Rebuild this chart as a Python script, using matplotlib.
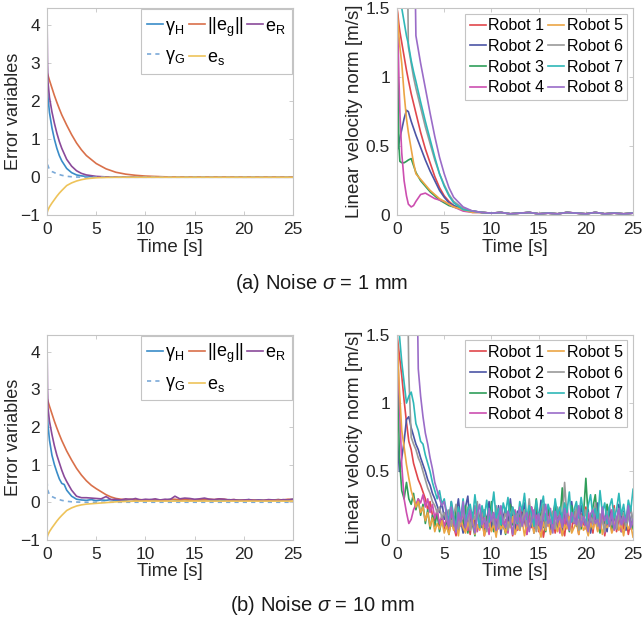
import matplotlib
matplotlib.use('Agg')
import matplotlib.pyplot as plt
import numpy as np

plt.rcParams['font.family'] = ['Liberation Sans', 'DejaVu Sans']
plt.rcParams['mathtext.fontset'] = 'custom'
plt.rcParams['mathtext.rm'] = 'Liberation Sans'
plt.rcParams['mathtext.it'] = 'Liberation Sans:italic'

# ---- error variables, noise 1 mm ----
t_err = [0, 0.05, 0.1, 0.25, 0.5, 0.75, 1, 1.25, 1.5, 2, 2.5, 3, 3.5, 4, 5, 6, 7, 8, 9, 10, 12, 15, 20, 25]
gamma_h_a = [2.55, 2.3, 2.1, 1.7, 1.3, 1.0, 0.76, 0.57, 0.43, 0.23, 0.12, 0.06, 0.035, 0.02, 0.008, 0.003, 0, 0, 0, 0, 0, 0, 0, 0]
e_r_a = [4.4, 3.0, 2.5, 2.1, 1.72, 1.42, 1.16, 0.94, 0.76, 0.47, 0.29, 0.17, 0.1, 0.06, 0.022, 0.008, 0.003, 0, 0, 0, 0, 0, 0, 0]
e_g_a = [2.75, 2.72, 2.68, 2.55, 2.35, 2.15, 1.97, 1.8, 1.64, 1.37, 1.12, 0.9, 0.72, 0.57, 0.36, 0.22, 0.13, 0.08, 0.05, 0.03, 0.01, 0.003, 0, 0]
gamma_g_a = [0.55, 0.4, 0.3, 0.2, 0.15, 0.12, 0.09, 0.07, 0.05, 0.025, 0.012, 0.005, 0.002, 0, 0, 0, 0, 0, 0, 0, 0, 0, 0, 0]
e_s_a = [-0.95, -0.9, -0.86, -0.78, -0.68, -0.59, -0.5, -0.42, -0.35, -0.22, -0.15, -0.1, -0.065, -0.04, -0.015, -0.006, -0.002, 0, 0, 0, 0, 0, 0, 0]

# ---- error variables, noise 10 mm ----
t_err_b = [0, 0.05, 0.1, 0.25, 0.5, 0.75, 1, 1.25, 1.5, 1.75, 2,
           2.5, 3, 3.5, 4, 4.5, 5, 5.5, 6, 6.5, 7, 7.5, 8, 8.5, 9, 9.5, 10, 10.5, 11, 11.5, 12,
           12.5, 13, 13.5, 14, 14.5, 15, 15.5, 16, 16.5, 17, 17.5, 18, 18.5, 19, 19.5, 20,
           20.5, 21, 21.5, 22, 22.5, 23, 23.5, 24, 24.5, 25]
gamma_h_b = [2.55, 2.3, 2.05, 1.65, 1.25, 1.0, 0.8, 0.62, 0.5, 0.47, 0.32,
             0.16, 0.08, 0.06, 0.05, 0.07, 0.04, 0.06, 0.05, 0.07, 0.04, 0.06, 0.05, 0.08, 0.05, 0.06,
             0.04, 0.07, 0.05, 0.06, 0.05, 0.08, 0.06, 0.05, 0.07, 0.04, 0.06, 0.05, 0.07, 0.06, 0.04,
             0.06, 0.05, 0.07, 0.05, 0.06, 0.04, 0.07, 0.05, 0.06, 0.05, 0.04, 0.06, 0.07, 0.05, 0.06, 0.08]
e_r_b = [4.4, 3.0, 2.5, 2.15, 1.8, 1.5, 1.25, 1.05, 0.85, 0.68, 0.55,
         0.32, 0.16, 0.12, 0.12, 0.11, 0.1, 0.09, 0.15, 0.07, 0.08,
         0.06, 0.09, 0.07, 0.1, 0.06, 0.08, 0.07, 0.09, 0.06, 0.08,
         0.07, 0.16, 0.09, 0.11, 0.1, 0.08, 0.09, 0.11, 0.08, 0.07,
         0.09, 0.08, 0.06, 0.07, 0.05, 0.06, 0.07, 0.05, 0.06, 0.05,
         0.07, 0.06, 0.05, 0.07, 0.06, 0.08]
e_g_b = [2.75, 2.72, 2.68, 2.55, 2.35, 2.15, 1.97, 1.8, 1.64, 1.5, 1.36,
         1.12, 0.9, 0.72, 0.57, 0.45, 0.36, 0.28, 0.2, 0.14, 0.1,
         0.08, 0.07, 0.08, 0.06, 0.07, 0.05, 0.06, 0.07, 0.05, 0.06,
         0.07, 0.08, 0.06, 0.07, 0.06, 0.05, 0.07, 0.06, 0.08, 0.07,
         0.09, 0.08, 0.06, 0.07, 0.05, 0.06, 0.05, 0.06, 0.04, 0.05,
         0.06, 0.05, 0.07, 0.06, 0.08, 0.07]
gamma_g_b = gamma_g_a
e_s_b = [-0.95, -0.9, -0.86, -0.78, -0.68, -0.59, -0.5, -0.42, -0.35, -0.22, -0.15, -0.1, -0.07, -0.05, -0.03, -0.01, 0.01, 0.02, 0.03, 0.03, 0.03, 0.03, 0.03, 0.03]

# ---- robot velocity norms, noise 1 mm ----
t_vel = [0, 0.1, 0.2, 0.3, 0.5, 0.75, 1, 1.2, 1.5, 1.75, 2, 2.5, 3, 3.5, 4, 4.5, 5, 5.5, 6, 7, 8,
         9, 10, 11, 12, 13, 14, 15, 16, 17, 18, 19, 20, 21, 22, 23, 24, 25]
tail_a = [0.02, 0.015, 0.02, 0.01, 0.015, 0.02, 0.01, 0.015, 0.01, 0.02, 0.015, 0.01, 0.02, 0.01, 0.015, 0.01, 0.015]
robot1_a = [1.5, 1.45, 1.38, 1.33, 1.25, 1.15, 1.05, 0.98, 0.88, 0.81, 0.74, 0.6, 0.48, 0.38, 0.28, 0.2, 0.14, 0.1, 0.07, 0.04, 0.03] + tail_a
robot2_a = [0.8, 0.48, 0.52, 0.56, 0.62, 0.7, 0.76, 0.75, 0.68, 0.63, 0.58, 0.49, 0.4, 0.32, 0.25, 0.18, 0.13, 0.09, 0.07, 0.04, 0.03] + tail_a
robot3_a = [1.5, 1.0, 0.5, 0.39, 0.38, 0.38, 0.39, 0.4, 0.41, 0.36, 0.31, 0.25, 0.21, 0.17, 0.14, 0.11, 0.09, 0.07, 0.06, 0.04, 0.025] + tail_a
robot4_a = [1.5, 1.3, 1.0, 0.75, 0.45, 0.25, 0.14, 0.08, 0.06, 0.07, 0.1, 0.15, 0.16, 0.14, 0.12, 0.11, 0.1, 0.08, 0.06, 0.03, 0.02] + tail_a
robot5_a = [1.5, 1.4, 1.3, 1.22, 1.1, 0.88, 0.7, 0.6, 0.48, 0.38, 0.3, 0.26, 0.22, 0.18, 0.15, 0.12, 0.1, 0.08, 0.06, 0.04, 0.02] + tail_a
robot6_a = [2.5, 2.5, 2.5, 2.5, 2.5, 2.5, 2.5, 1.22, 1.1, 1.0, 0.92, 0.78, 0.64, 0.52, 0.4, 0.3, 0.22, 0.15, 0.1, 0.05, 0.03] + tail_a
robot7_a = [2.5, 2.5, 2.5, 2.5, 1.5, 1.4, 1.3, 1.24, 1.12, 1.04, 0.97, 0.82, 0.68, 0.55, 0.42, 0.3, 0.21, 0.14, 0.09, 0.04, 0.03] + tail_a
robot8_a = [2.5, 2.5, 2.5, 2.5, 2.5, 2.5, 2.5, 2.5, 2.5, 2.5, 1.3, 1.1, 0.92, 0.74, 0.57, 0.42, 0.3, 0.2, 0.13, 0.06, 0.03] + tail_a

# ---- robot velocity norms, noise 10 mm (0.25 s samples) ----
t_vel_b = np.linspace(0, 25, 101)
robot1_b = [1.5, 1.35, 1.2, 1.02, 0.86, 0.72, 0.66, 0.56, 0.5, 0.44, 0.4, 0.35, 0.3, 0.22, 0.28, 0.18, 0.14, 0.2, 0.1, 0.16, 0.08,
            0.15, 0.05, 0.2, 0.1, 0.03, 0.18, 0.12, 0.22, 0.07, 0.14,
            0.04, 0.19, 0.11, 0.25, 0.08, 0.16, 0.03, 0.13, 0.21, 0.09,
            0.17, 0.05, 0.12, 0.24, 0.1, 0.06, 0.19, 0.14, 0.03, 0.2,
            0.11, 0.07, 0.23, 0.15, 0.04, 0.18, 0.09, 0.13, 0.26, 0.06,
            0.16, 0.02, 0.12, 0.2, 0.08, 0.17, 0.05, 0.14, 0.22, 0.1,
            0.03, 0.18, 0.12, 0.07, 0.21, 0.15, 0.04, 0.19, 0.11, 0.24,
            0.08, 0.13, 0.05, 0.2, 0.16, 0.09, 0.22, 0.03, 0.14, 0.18,
            0.1, 0.25, 0.06, 0.15, 0.2, 0.08, 0.17, 0.04, 0.13, 0.1]
robot2_b = [0.78, 0.5, 0.6, 0.72, 0.88, 0.9, 0.82, 0.76, 0.7, 0.66, 0.6, 0.55, 0.5, 0.44, 0.4, 0.34, 0.3, 0.25, 0.2, 0.28, 0.15,
            0.22, 0.12, 0.28, 0.08, 0.18, 0.3, 0.14, 0.05, 0.24, 0.32,
            0.1, 0.2, 0.06, 0.26, 0.15, 0.09, 0.22, 0.13, 0.28, 0.07,
            0.19, 0.11, 0.25, 0.04, 0.17, 0.23, 0.1, 0.3, 0.14, 0.06,
            0.21, 0.12, 0.18, 0.27, 0.08, 0.16, 0.24, 0.05, 0.2, 0.13,
            0.29, 0.09, 0.17, 0.22, 0.06, 0.14, 0.26, 0.11, 0.19, 0.04,
            0.23, 0.15, 0.08, 0.28, 0.12, 0.2, 0.07, 0.25, 0.16, 0.1,
            0.22, 0.05, 0.18, 0.13, 0.27, 0.09, 0.2, 0.15, 0.06, 0.24,
            0.11, 0.19, 0.08, 0.26, 0.14, 0.21, 0.07, 0.17, 0.23, 0.12]
robot3_b = [1.5, 0.6, 0.36, 0.3, 0.42, 0.3, 0.26, 0.34, 0.22, 0.3, 0.18, 0.26, 0.12, 0.22, 0.08, 0.18, 0.1, 0.2, 0.06, 0.15, 0.1,
            0.14, 0.04, 0.19, 0.1, 0.22, 0.07, 0.16, 0.12, 0.25, 0.05,
            0.18, 0.11, 0.03, 0.2, 0.14, 0.24, 0.08, 0.17, 0.1, 0.28,
            0.06, 0.15, 0.21, 0.09, 0.13, 0.04, 0.19, 0.26, 0.11, 0.16,
            0.07, 0.22, 0.12, 0.18, 0.05, 0.24, 0.1, 0.15, 0.3, 0.08,
            0.2, 0.13, 0.06, 0.23, 0.11, 0.17, 0.27, 0.09, 0.14, 0.38,
            0.12, 0.2, 0.06, 0.25, 0.15, 0.1, 0.22, 0.08, 0.18, 0.45,
            0.16, 0.09, 0.24, 0.33, 0.13, 0.05, 0.2, 0.11, 0.26, 0.14,
            0.07, 0.19, 0.12, 0.23, 0.06, 0.17, 0.1, 0.21, 0.14, 0.08]
robot4_b = [1.5, 1.0, 0.55, 0.3, 0.2, 0.12, 0.15, 0.22, 0.26, 0.3, 0.27, 0.33, 0.24, 0.3, 0.2, 0.26, 0.16, 0.22, 0.12, 0.18, 0.1,
            0.16, 0.08, 0.2, 0.12, 0.05, 0.18, 0.1, 0.23, 0.14, 0.07,
            0.19, 0.11, 0.25, 0.06, 0.15, 0.2, 0.09, 0.13, 0.04, 0.21,
            0.12, 0.17, 0.08, 0.24, 0.1, 0.15, 0.05, 0.19, 0.13, 0.22,
            0.07, 0.16, 0.11, 0.2, 0.04, 0.14, 0.24, 0.09, 0.18, 0.12,
            0.06, 0.21, 0.15, 0.1, 0.23, 0.08, 0.17, 0.13, 0.05, 0.2,
            0.11, 0.26, 0.09, 0.16, 0.12, 0.22, 0.06, 0.18, 0.14, 0.08,
            0.2, 0.1, 0.15, 0.24, 0.07, 0.13, 0.19, 0.05, 0.17, 0.11,
            0.22, 0.09, 0.14, 0.2, 0.06, 0.16, 0.12, 0.24, 0.08, 0.15]
robot5_b = [1.5, 1.1, 0.8, 0.68, 0.55, 0.45, 0.36, 0.3, 0.24, 0.28, 0.2, 0.24, 0.14, 0.2, 0.1, 0.16, 0.06, 0.12, 0.08, 0.14, 0.05,
            0.1, 0.04, 0.14, 0.07, 0.12, 0.03, 0.16, 0.09, 0.05, 0.13,
            0.08, 0.18, 0.04, 0.11, 0.07, 0.15, 0.03, 0.1, 0.14, 0.06,
            0.12, 0.02, 0.16, 0.08, 0.11, 0.05, 0.13, 0.09, 0.17, 0.04,
            0.1, 0.07, 0.14, 0.03, 0.12, 0.08, 0.15, 0.05, 0.11, 0.09,
            0.02, 0.13, 0.07, 0.16, 0.04, 0.1, 0.12, 0.06, 0.14, 0.03,
            0.11, 0.08, 0.17, 0.05, 0.09, 0.13, 0.04, 0.15, 0.07, 0.1,
            0.03, 0.12, 0.08, 0.14, 0.06, 0.18, 0.04, 0.11, 0.09, 0.13,
            0.05, 0.1, 0.15, 0.07, 0.12, 0.03, 0.14, 0.08, 0.11, 0.02]
robot6_b = [2.5, 2.5, 2.5, 2.5, 2.5, 1.2, 0.75, 0.7, 0.66, 0.6, 0.56, 0.5, 0.44, 0.38, 0.34, 0.28, 0.25, 0.2, 0.24, 0.16, 0.2,
            0.14, 0.22, 0.1, 0.18, 0.26, 0.08, 0.16, 0.2, 0.12, 0.24,
            0.07, 0.19, 0.15, 0.28, 0.1, 0.17, 0.22, 0.06, 0.14, 0.2,
            0.11, 0.25, 0.09, 0.18, 0.13, 0.21, 0.07, 0.16, 0.24, 0.12,
            0.19, 0.08, 0.15, 0.22, 0.1, 0.3, 0.13, 0.18, 0.06, 0.2,
            0.14, 0.26, 0.09, 0.17, 0.12, 0.21, 0.08, 0.24, 0.15, 0.11,
            0.42, 0.16, 0.1, 0.2, 0.13, 0.25, 0.07, 0.18, 0.14, 0.22,
            0.09, 0.17, 0.12, 0.27, 0.1, 0.19, 0.14, 0.06, 0.21, 0.15,
            0.11, 0.23, 0.08, 0.18, 0.13, 0.2, 0.1, 0.16, 0.24, 0.12]
robot7_b = [2.5, 1.5, 1.3, 1.15, 1.0, 1.05, 1.08, 1.0, 0.85, 0.8, 0.72, 0.7, 0.62, 0.56, 0.5, 0.42, 0.36, 0.3, 0.36, 0.26, 0.3,
            0.2, 0.14, 0.28, 0.18, 0.1, 0.24, 0.16, 0.3, 0.12, 0.22,
            0.26, 0.15, 0.33, 0.19, 0.09, 0.25, 0.17, 0.29, 0.13, 0.21,
            0.35, 0.16, 0.23, 0.11, 0.27, 0.2, 0.31, 0.14, 0.24, 0.18,
            0.12, 0.28, 0.21, 0.34, 0.15, 0.25, 0.19, 0.1, 0.29, 0.17,
            0.23, 0.32, 0.14, 0.26, 0.2, 0.12, 0.3, 0.18, 0.24, 0.15,
            0.27, 0.2, 0.35, 0.13, 0.22, 0.28, 0.16, 0.31, 0.19, 0.11,
            0.25, 0.33, 0.17, 0.23, 0.14, 0.36, 0.2, 0.27, 0.12, 0.24,
            0.3, 0.16, 0.22, 0.34, 0.18, 0.26, 0.13, 0.29, 0.21, 0.37]
robot8_b = [2.5, 2.5, 2.5, 2.5, 2.5, 2.5, 2.5, 2.5, 2.5, 1.25, 1.05, 0.9, 0.78, 0.7, 0.6, 0.52, 0.42, 0.36, 0.3, 0.25, 0.28,
            0.18, 0.1, 0.24, 0.15, 0.06, 0.2, 0.13, 0.28, 0.09, 0.17,
            0.22, 0.12, 0.05, 0.19, 0.26, 0.11, 0.16, 0.08, 0.23, 0.14,
            0.2, 0.07, 0.17, 0.25, 0.12, 0.09, 0.21, 0.15, 0.04, 0.18,
            0.13, 0.24, 0.1, 0.16, 0.2, 0.06, 0.14, 0.22, 0.11, 0.19,
            0.08, 0.17, 0.26, 0.12, 0.15, 0.05, 0.21, 0.13, 0.18, 0.09,
            0.23, 0.14, 0.07, 0.2, 0.16, 0.11, 0.25, 0.1, 0.17, 0.13,
            0.06, 0.19, 0.22, 0.12, 0.15, 0.08, 0.24, 0.14, 0.18, 0.1,
            0.2, 0.07, 0.16, 0.23, 0.11, 0.17, 0.13, 0.25, 0.09, 0.15]

robot_labels = ['Robot 1', 'Robot 2', 'Robot 3', 'Robot 4', 'Robot 5', 'Robot 6', 'Robot 7', 'Robot 8']
robot_colors = ['#e0474c', '#4c55a6', '#2f9e5a', '#cc4fb0', '#eba545', '#9a9a9a', '#2fb8b8', '#9a6cc8']
err_colors = {'gh': '#3a8cc8', 'eg': '#d9704a', 'er': '#8a4a9a', 'gg': '#7aa9d8', 'es': '#eec35a'}

spine_c = '#c4c4c4'
text_c = '#262626'


def style_axes(ax):
    for s in ax.spines.values():
        s.set_color(spine_c)
        s.set_linewidth(0.8)
    ax.tick_params(direction='in', length=3, width=0.6, color=spine_c, labelcolor=text_c,
                   labelsize=12.5, top=True, right=True, pad=5)
    ax.set_xlim(0, 25)
    ax.set_xticks([0, 5, 10, 15, 20, 25])
    ax.set_xlabel('Time [s]', fontsize=13.5, color=text_c, labelpad=1)


def error_panel(ax, t, gh, eg, er, t_gg, gg, t_es, es):
    l1, = ax.plot(t, gh, color=err_colors['gh'], lw=1.2)
    l2, = ax.plot(t, eg, color=err_colors['eg'], lw=1.2)
    l3, = ax.plot(t, er, color=err_colors['er'], lw=1.2)
    l4, = ax.plot(t_gg, gg, color=err_colors['gg'], lw=1.2, ls=(0, (2.5, 2.5)))
    l5, = ax.plot(t_es, es, color=err_colors['es'], lw=1.2)
    style_axes(ax)
    ax.set_ylim(-1, 4.45)
    ax.set_yticks([-1, 0, 1, 2, 3, 4])
    ax.set_ylabel('Error variables', fontsize=13, color=text_c, labelpad=-1)
    leg = ax.legend([l1, l4, l2, l5, l3],
                    ['γ$_{\\mathrm{H}}$', 'γ$_{\\mathrm{G}}$', '||e$_{\\mathrm{g}}$||', 'e$_{\\mathrm{s}}$', 'e$_{\\mathrm{R}}$'],
                    ncol=3, loc='upper right', fontsize=13, handlelength=0.9, handletextpad=0.1,
                    columnspacing=0.2, labelspacing=0.6, borderaxespad=0.05, borderpad=0.35,
                    fancybox=False, framealpha=1)
    leg.get_frame().set_edgecolor(spine_c)
    leg.get_frame().set_linewidth(0.8)


def robot_panel(ax, t, series):
    for y, c, lab in zip(series, robot_colors, robot_labels):
        ax.plot(t, y, color=c, lw=1.2, label=lab)
    style_axes(ax)
    ax.set_ylim(0, 1.5)
    ax.set_yticks([0, 0.5, 1, 1.5])
    ax.set_yticklabels(['0', '0.5', '1', '1.5'])
    ax.set_ylabel('Linear velocity norm [m/s]', fontsize=13.5, color=text_c, labelpad=2)
    leg = ax.legend(ncol=2, loc='upper right', fontsize=11.5, handlelength=1.0, handletextpad=0.15,
                    columnspacing=0.25, labelspacing=0.35, borderaxespad=0.35, borderpad=0.3,
                    fancybox=False, framealpha=1)
    leg.get_frame().set_edgecolor(spine_c)
    leg.get_frame().set_linewidth(0.8)


fig = plt.figure(figsize=(6.44, 6.22), dpi=100)
ax1 = fig.add_axes([0.073, 0.654, 0.382, 0.333])
ax2 = fig.add_axes([0.6165, 0.654, 0.3665, 0.333])
ax3 = fig.add_axes([0.073, 0.132, 0.382, 0.330])
ax4 = fig.add_axes([0.6165, 0.132, 0.3665, 0.330])

error_panel(ax1, t_err, gamma_h_a, e_g_a, e_r_a, t_err, gamma_g_a, t_err, e_s_a)
robot_panel(ax2, t_vel, [robot1_a, robot2_a, robot3_a, robot4_a, robot5_a, robot6_a, robot7_a, robot8_a])
error_panel(ax3, t_err_b, gamma_h_b, e_g_b, e_r_b, t_err, gamma_g_b, t_err, e_s_b)
robot_panel(ax4, t_vel_b, [robot1_b, robot2_b, robot3_b, robot4_b, robot5_b, robot6_b, robot7_b, robot8_b])

fig.text(0.5, 0.545, '(a) Noise $\\sigma$ = 1 mm', ha='center', va='center', fontsize=14.5, color='#1a1a1a')
fig.text(0.5, 0.026, '(b) Noise $\\sigma$ = 10 mm', ha='center', va='center', fontsize=14.5, color='#1a1a1a')

fig.savefig('out.png', dpi=100)
